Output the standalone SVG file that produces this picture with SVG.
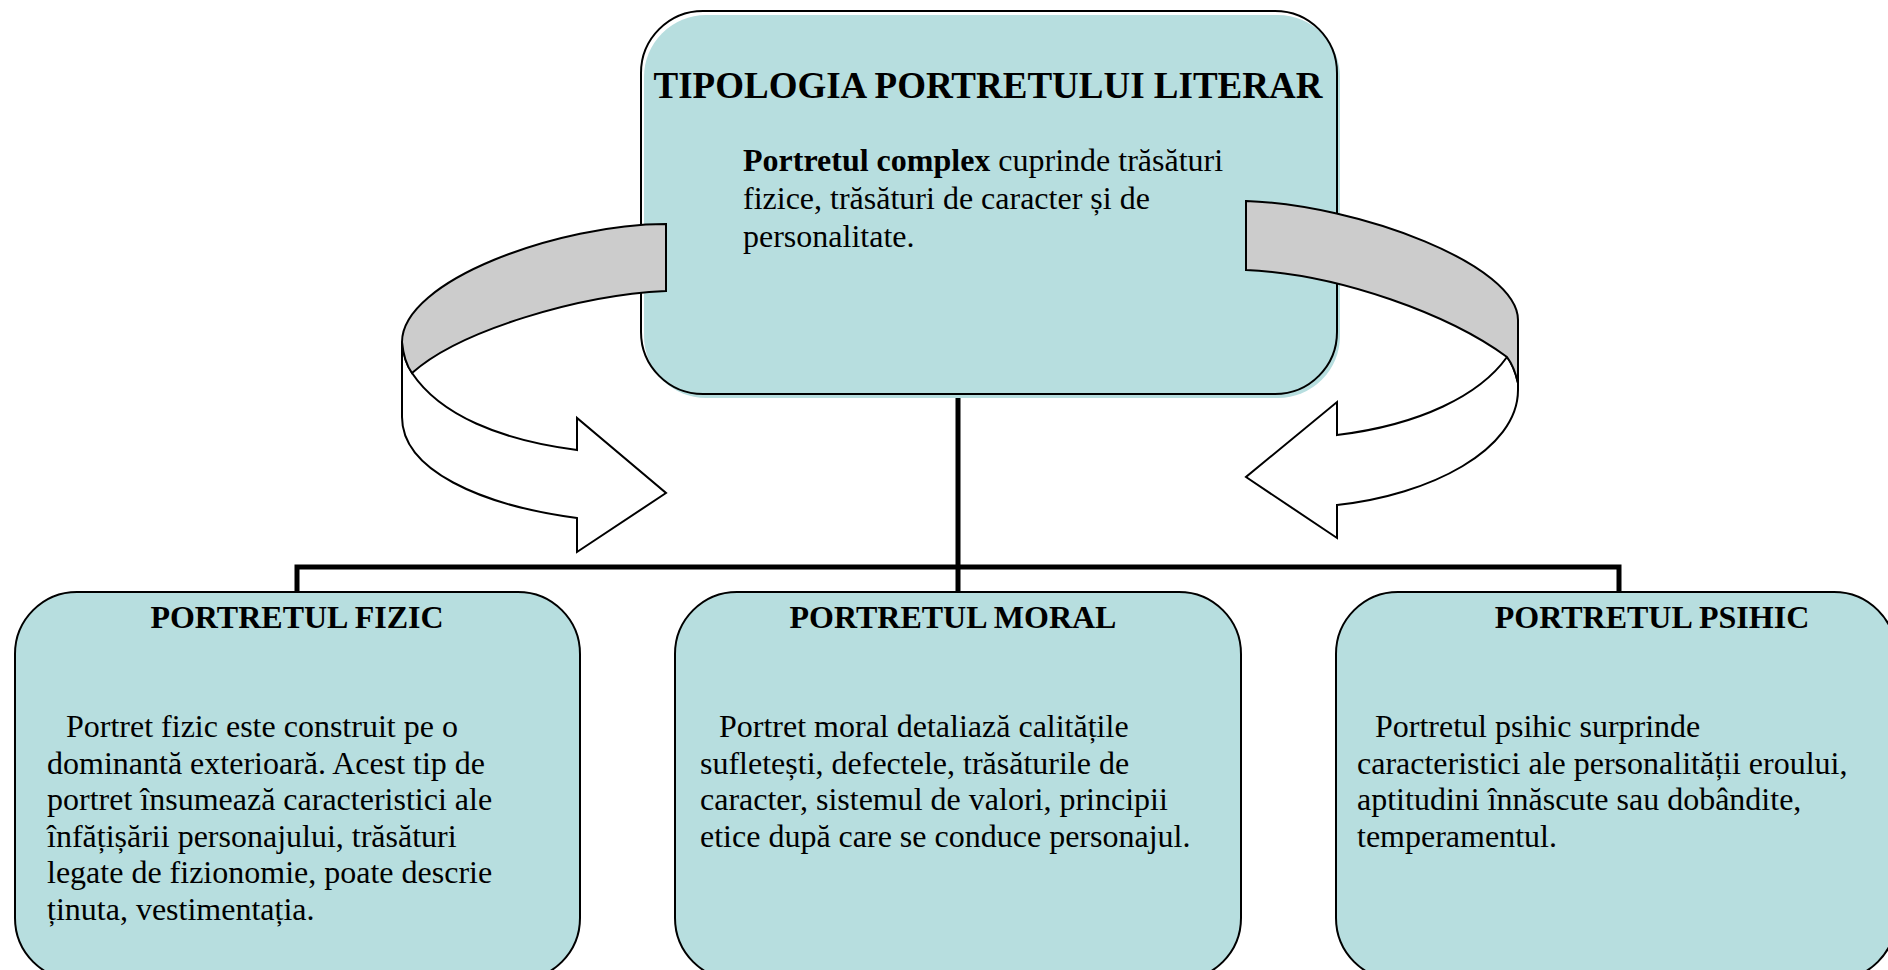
<svg xmlns="http://www.w3.org/2000/svg" width="1888" height="970" viewBox="0 0 1888 970">
<style>
.box{fill:#B7DEDF;stroke:#000;stroke-width:2}
.fill{fill:#B7DEDF}
.out{fill:none;stroke:#000;stroke-width:2}
.t{font-family:"Liberation Serif","Times New Roman",serif;font-size:32px;fill:#000}
.b{font-weight:bold}
.title{font-family:"Liberation Serif","Times New Roman",serif;font-size:37px;font-weight:bold;fill:#000}
.conn{fill:none;stroke:#000;stroke-width:5;stroke-linejoin:miter}
.band{fill:#CCCCCC;stroke:#000;stroke-width:2;stroke-linejoin:miter}
.front{fill:#FFFFFF;stroke:#000;stroke-width:2;stroke-linejoin:miter}
</style>
<rect width="1888" height="970" fill="#FFFFFF"/>
<g id="connectors">
<path class="conn" d="M958,398 V594"/>
<path class="conn" d="M297,594 V567 H1619 V594"/>
</g>
<g id="node-fizic">
<rect class="box" x="15" y="592" width="565" height="388" rx="62" ry="62"/>
<text class="t b" x="297" y="628" text-anchor="middle">PORTRETUL FIZIC</text>
<text class="t">
<tspan x="66" y="737">Portret fizic este construit pe o</tspan>
<tspan x="47" y="773.5">dominantă exterioară. Acest tip de</tspan>
<tspan x="47" y="810">portret însumează caracteristici ale</tspan>
<tspan x="47" y="846.5">înfățișării personajului, trăsături</tspan>
<tspan x="47" y="883">legate de fizionomie, poate descrie</tspan>
<tspan x="47" y="919.5">ținuta, vestimentația.</tspan>
</text>
</g>
<g id="node-moral">
<rect class="box" x="675" y="592" width="566" height="388" rx="62" ry="62"/>
<text class="t b" x="953" y="628" text-anchor="middle">PORTRETUL MORAL</text>
<text class="t">
<tspan x="719" y="737">Portret moral detaliază calitățile</tspan>
<tspan x="700" y="773.5">sufletești, defectele, trăsăturile de</tspan>
<tspan x="700" y="810">caracter, sistemul de valori, principii</tspan>
<tspan x="700" y="846.5">etice după care se conduce personajul.</tspan>
</text>
</g>
<g id="node-psihic">
<rect class="box" x="1336" y="592" width="560" height="388" rx="62" ry="62"/>
<text class="t b" x="1652" y="628" text-anchor="middle">PORTRETUL PSIHIC</text>
<text class="t">
<tspan x="1375" y="737">Portretul psihic surprinde</tspan>
<tspan x="1357" y="773.5">caracteristici ale personalității eroului,</tspan>
<tspan x="1357" y="810">aptitudini înnăscute sau dobândite,</tspan>
<tspan x="1357" y="846.5">temperamentul.</tspan>
</text>
</g>
<g id="node-tipologia">
<rect class="fill" x="644" y="15" width="696" height="383" rx="62" ry="62"/>
<rect class="out" x="641" y="11" width="696" height="383" rx="62" ry="62"/>
<text class="title" x="988" y="98" text-anchor="middle">TIPOLOGIA PORTRETULUI LITERAR</text>
<text class="t">
<tspan x="743" y="171"><tspan class="b">Portretul complex</tspan> cuprinde trăsături</tspan>
<tspan x="743" y="209">fizice, trăsături de caracter și de</tspan>
<tspan x="743" y="247">personalitate.</tspan>
</text>
</g>
<g id="arrow-left">
<path class="front" d="M402,342 Q404,362 412,373 C440,415 500,440 577,450 L577,418 L666,493 L577,552 L577,518 C480,505 402,470 402,417 Z"/>
<path class="band" d="M666,224 C560,224 402,280 402,342 Q404,362 412,373 C460,330 580,295 666,291 Z"/>
</g>
<g id="arrow-right">
<path class="front" d="M1507,357 Q1514,366 1518,383 L1518,390 C1518,450 1430,495 1337,505 L1337,538 L1246,477 L1337,402 L1337,435 C1420,425 1480,395 1507,357 Z"/>
<path class="band" d="M1246,201 C1360,205 1518,265 1518,320 L1518,383 Q1514,366 1507,357 C1450,315 1340,274 1246,270 Z"/>
</g>
</svg>
